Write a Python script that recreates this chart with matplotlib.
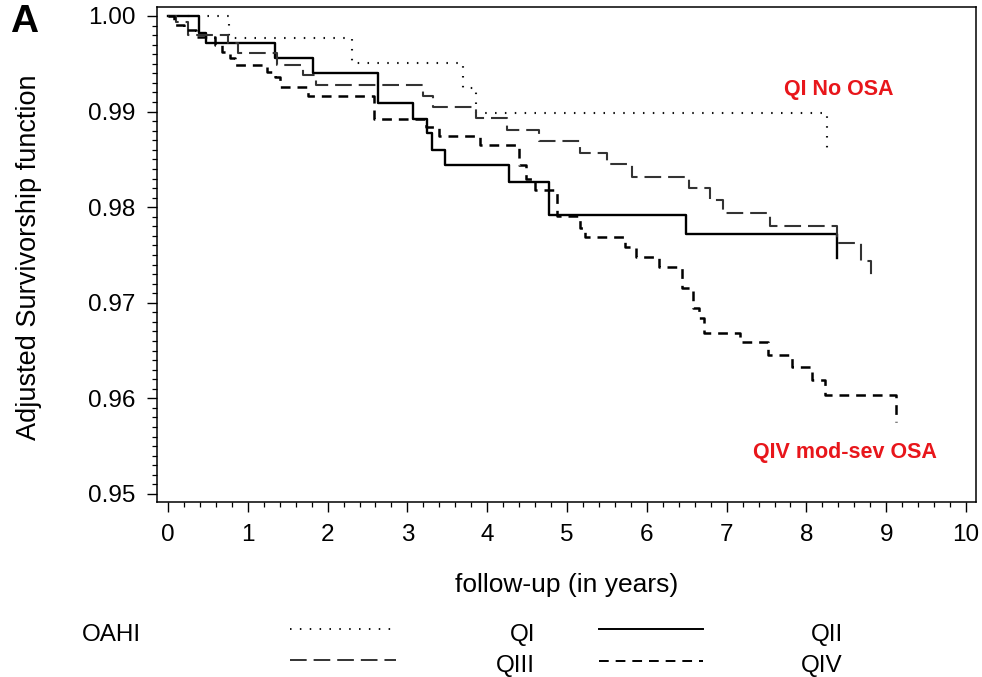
import matplotlib
matplotlib.use('Agg')
import matplotlib.pyplot as plt
from matplotlib.ticker import MultipleLocator, FormatStrFormatter

plt.rcParams['font.family'] = ['Liberation Sans', 'DejaVu Sans']
plt.rcParams['lines.scale_dashes'] = False

###############################
#### Adjusted survival data ###

# follow-up time (years) where each step happens, and survival after the step
qi_t = [0, 0.76, 2.31, 3.70, 3.86, 8.26]
qi_s = [1.0, 0.9977, 0.9951, 0.9925, 0.9899, 0.9862]

qii_t = [0, 0.39, 0.48, 1.34, 1.82, 2.63, 3.07, 3.25, 3.31, 3.47, 4.27, 4.77,
         6.49, 8.38]
qii_s = [1.0, 0.9982, 0.9972, 0.9956, 0.9940, 0.9909, 0.9892, 0.9878, 0.9860,
         0.9844, 0.9826, 0.9792, 0.9772, 0.9747]

qiii_t = [0, 0.10, 0.25, 0.75, 0.88, 1.37, 1.69, 1.85, 3.20, 3.32, 3.86, 4.25,
          4.65, 5.16, 5.50, 5.81, 6.53, 6.79, 6.95, 7.54, 8.38, 8.68, 8.81]
qiii_s = [1.0, 0.9994, 0.9980, 0.9972, 0.9961, 0.9949, 0.9938, 0.9928, 0.9916,
          0.9905, 0.9893, 0.9881, 0.9869, 0.9857, 0.9845, 0.9832, 0.9820,
          0.9807, 0.9794, 0.9780, 0.9763, 0.9744, 0.9724]

qiv_t = [0, 0.08, 0.20, 0.35, 0.59, 0.68, 0.78, 0.84, 1.24, 1.34, 1.40, 1.75,
         2.58, 3.23, 3.40, 3.91, 4.40, 4.48, 4.60, 4.87, 5.16, 5.23, 5.73,
         5.86, 6.15, 6.44, 6.58, 6.65, 6.72, 7.17, 7.52, 7.82, 8.07, 8.23,
         9.12]
qiv_s = [1.0, 0.9991, 0.9985, 0.9978, 0.9970, 0.9962, 0.9956, 0.9949, 0.9941,
         0.9936, 0.9926, 0.9916, 0.9892, 0.9884, 0.9874, 0.9865, 0.9844,
         0.9830, 0.9818, 0.9791, 0.9778, 0.9769, 0.9758, 0.9748, 0.9737,
         0.9715, 0.9695, 0.9684, 0.9668, 0.9659, 0.9645, 0.9633, 0.9619,
         0.9604, 0.9575]

groups = ['QI', 'QII', 'QIII', 'QIV']
times = [qi_t, qii_t, qiii_t, qiv_t]
survs = [qi_s, qii_s, qiii_s, qiv_s]

styles = {
    'QI': dict(ls=(0, (1.1, 6.0)), lw=1.5, color='#111111'),
    'QII': dict(ls='-', lw=1.7, color='black'),
    'QIII': dict(ls=(0, (12.0, 5.0)), lw=1.5, color='#333333'),
    'QIV': dict(ls=(0, (7.0, 5.0)), lw=1.8, color='black'),
}

#######################
#### Plot the steps ####

fig = plt.figure(figsize=(9.82, 6.77), dpi=100)
ax = fig.add_axes([157 / 982, 1 - 502 / 677, 819 / 982, 495 / 677])

for g, t, s in zip(groups, times, survs):
    ax.step(t, s, where='post', **styles[g])

ax.set_xlim(-0.138, 10.125)
ax.set_ylim(0.94916, 1.00094)

ax.xaxis.set_major_locator(MultipleLocator(1))
ax.xaxis.set_minor_locator(MultipleLocator(0.2))
ax.yaxis.set_major_locator(MultipleLocator(0.01))
ax.yaxis.set_minor_locator(MultipleLocator(0.001))
ax.yaxis.set_major_formatter(FormatStrFormatter('%.2f'))
ax.tick_params(which='major', direction='out', length=7.5, width=1.0,
               labelsize=17.5, pad=8)
ax.tick_params(which='minor', direction='out', length=3.8, width=0.9)
ax.tick_params(top=False, right=False, which='both')
for sp in ax.spines.values():
    sp.set_linewidth(1.1)

ax.set_xlabel('follow-up (in years)', fontsize=19)
ax.xaxis.set_label_coords(0.5, -0.143)
ax.set_ylabel('Adjusted Survivorship function', fontsize=19.5)
ax.yaxis.set_label_coords(-0.14, 0.495)

# red group annotations
ax.text(8.40, 0.99226, 'QI No OSA', color='#e8161b', fontsize=15.5,
        fontweight='bold', ha='center', va='center')
ax.text(8.48, 0.95439, 'QIV mod-sev OSA', color='#e8161b', fontsize=15.5,
        fontweight='bold', ha='center', va='center')

fig.text(10 / 982, 1 - 4 / 677, 'A', fontsize=28, fontweight='bold',
         ha='left', va='top')

#######################
###### Legend ########

lax = fig.add_axes([0, 0, 1, 77 / 677])
lax.set_xlim(0, 982)
lax.set_ylim(677, 600)
lax.axis('off')

lax.text(82, 635, 'OAHI', fontsize=17.5, ha='left', va='center')
leg_pos = {'QI': (290, 396, 629, 535, 635),
           'QII': (599, 703, 629, 843, 635),
           'QIII': (290, 396, 660, 535, 666),
           'QIV': (599, 703, 661, 843, 666)}
for g in groups:
    x0, x1, yl, xt, yt = leg_pos[g]
    st = dict(styles[g])
    st['lw'] = min(st['lw'], 1.4)
    lax.plot([x0, x1], [yl, yl], **st)
    lax.text(xt, yt, g, fontsize=17.5, ha='right', va='center')

fig.savefig('out.png', dpi=100)
plt.close()
